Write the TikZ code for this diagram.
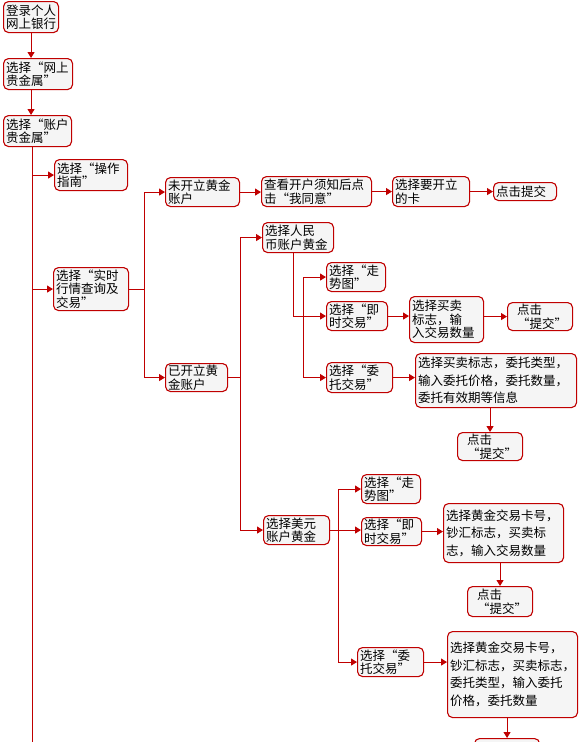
\documentclass[tikz,border=0pt]{standalone}
\usepackage{fontspec}
\setmainfont{Noto Sans CJK SC}[CharacterWidth=Full]
\usetikzlibrary{arrows.meta}
\definecolor{bd}{RGB}{192,0,0}
\definecolor{bf}{RGB}{245,245,245}
\tikzset{
 box/.style={draw=bd, fill=bf, line width=1.1pt, rounded corners=5pt, anchor=north west,
   inner xsep=2.5pt, inner ysep=1pt, align=left, font=\fontsize{12.5}{13.5}\selectfont},
 big/.style={font=\fontsize{12.5}{17.5}\selectfont},
 link/.style={draw=bd, line width=0.9pt},
 arr/.style={link, -{Triangle[length=6pt,width=7pt]}},
}
\begin{document}
\begin{tikzpicture}[x=1pt,y=-1pt]
\useasboundingbox (0,0) rectangle (582,742);
\clip (0,0) rectangle (582,742);
% nodes
\node[box, text width=50pt, minimum height=31pt] (n1) at (3,1) {登录个人\\网上银行};
\node[box, text width=64pt, minimum height=31pt] (n2) at (3,58) {选择“网上\\贵金属”};
\node[box, text width=63pt, minimum height=31pt] (n3) at (3,115) {选择“账户\\贵金属”};
\node[box, text width=68pt, minimum height=31pt] (n4) at (54,159) {选择“操作\\指南”};
\node[box, text width=70pt, minimum height=43pt] (n5) at (53,267) {选择“实时\\行情查询及\\交易”};
\node[box, text width=69pt, minimum height=29pt] (n6) at (165,177) {未开立黄金\\账户};
\node[box, text width=105pt, minimum height=30pt] (n7) at (261,176) {查看开户须知后点\\击“我同意”};
\node[box, text width=72pt, minimum height=30pt] (n8) at (392,176) {选择要开立\\的卡};
\node[box, text width=58pt, minimum height=18pt] (n9) at (493,182) {点击提交};
\node[box, text width=57pt, minimum height=28pt] (n6b) at (165,363) {已开立黄\\金账户};
\node[box, text width=66pt, minimum height=30pt] (n10) at (262,222) {选择人民\\币账户黄金};
\node[box, text width=54pt, minimum height=29pt] (n11) at (326,262) {选择“走\\势图”};
\node[box, text width=56pt, minimum height=29pt] (n12) at (326,301) {选择“即\\时交易”};
\node[box, text width=69pt, minimum height=46pt] (n13) at (409,296) {选择买卖\\标志，输\\入交易数量};
\node[box, text width=60pt, minimum height=28pt] (n14) at (507,302) {\hspace*{7pt}点击\\\hspace*{7pt}“提交”};
\node[box, text width=61pt, minimum height=30pt] (n15) at (326,362) {选择“委\\托交易”};
\node[box, big, text width=156pt, minimum height=54pt] (n16) at (415,353) {选择买卖标志，委托类型，\\输入委托价格，委托数量，\\委托有效期等信息};
\node[box, text width=60pt, minimum height=28pt] (n17) at (457,432) {\hspace*{7pt}点击\\\hspace*{7pt}“提交”};
\node[box, text width=61pt, minimum height=29pt] (n18) at (263,515) {选择美元\\账户黄金};
\node[box, text width=54pt, minimum height=29pt] (n19) at (361,474) {选择“走\\势图”};
\node[box, text width=55pt, minimum height=28pt] (n20) at (361,517) {选择“即\\时交易”};
\node[box, big, text width=115pt, minimum height=59pt] (n21) at (443,503) {选择黄金交易卡号，\\钞汇标志，买卖标\\志，输入交易数量};
\node[box, text width=60pt, minimum height=30pt] (n22) at (467,586) {\hspace*{7pt}点击\\\hspace*{7pt}“提交”};
\node[box, text width=61pt, minimum height=29pt] (n23) at (357,647) {选择“委\\托交易”};
\node[box, big, text width=125pt, minimum height=86pt] (n24) at (447,631) {选择黄金交易卡号，\\钞汇标志，买卖标志，\\委托类型，输入委托\\价格，委托数量};
\node[box, text width=60pt, minimum height=30pt] (n25) at (474,738) {};
% helper coordinates
\coordinate (tx) at (32,760);
\coordinate (b1) at (144,0);
\coordinate (b2) at (240,0);
\coordinate (r1) at (293,0);
\coordinate (r2) at (303,0);
\coordinate (u1) at (338,0);
% connectors
\draw[arr] (n1.south) -- (n1.south |- n2.north);
\draw[arr] (n1.south |- n2.south) -- (n1.south |- n3.north);
\draw[link] (n3.south -| tx) -- (tx);
\draw[arr] (n4.west -| tx) -- (n4.west);
\draw[arr] (n5.west -| tx) -- (n5.west);
\draw[arr] (n5.east) -- (n5.east -| b1) |- (n6.west);
\draw[arr] (n5.east -| b1) |- (n6b.west);
\draw[arr] (n6.east) -- (n6.east -| n7.west);
\draw[arr] (n7.east) -- (n7.east -| n8.west);
\draw[arr] (n8.east) -- (n8.east -| n9.west);
\draw[arr] (n6b.east) -- (n6b.east -| b2) |- (n10.west);
\draw[arr] (n6b.east -| b2) |- (n18.west);
\draw[arr] (n10.south -| r1) |- (n12.west);
\draw[arr] (n12.west -| r2) |- (n11.west);
\draw[arr] (n12.west -| r2) |- (n15.west);
\draw[arr] (n12.east) -- (n12.east -| n13.west);
\draw[arr] (n13.east |- n14.west) -- (n14.west);
\draw[arr] (n15.east) -- (n15.east -| n16.west);
\draw[arr] (n17.north |- n16.south) -- (n17.north);
\draw[arr] (n18.east) -- (n18.east -| n20.west);
\draw[arr] (n18.east -| u1) |- (n19.west);
\draw[arr] (n18.east -| u1) |- (n23.west);
\draw[arr] (n20.east) -- (n20.east -| n21.west);
\draw[arr] (n22.north |- n21.south) -- (n22.north);
\draw[arr] (n23.east) -- (n23.east -| n24.west);
\draw[arr] (n25.north |- n24.south) -- (n25.north);
\end{tikzpicture}
\end{document}
